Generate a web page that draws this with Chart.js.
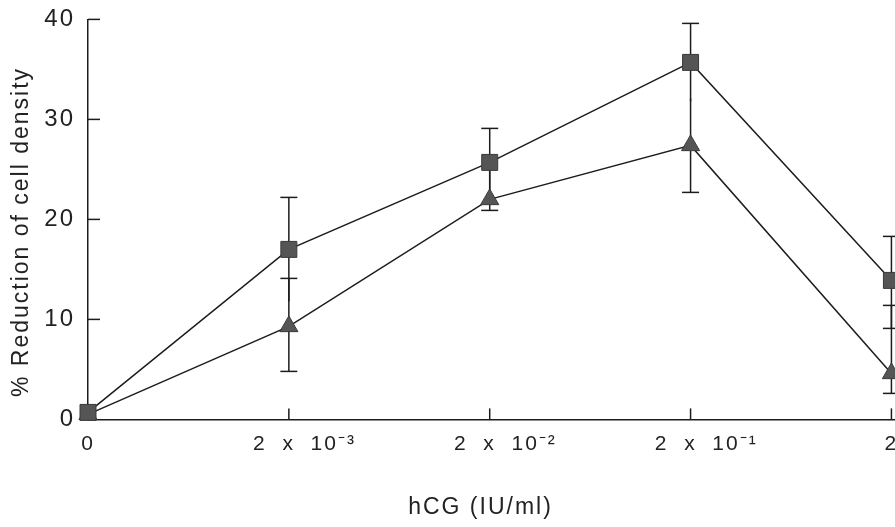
<!DOCTYPE html>
<html>
<head>
<meta charset="utf-8">
<script src="https://cdn.jsdelivr.net/npm/chart.js@4.4.1/dist/chart.umd.min.js"></script>
<style>
  html, body { margin: 0; padding: 0; background: #ffffff; overflow: hidden; width: 895px; height: 527px; }
  #wrap { width: 968px; height: 527px; }
</style>
</head>
<body>
<div id="wrap"><canvas id="c" width="968" height="527"></canvas></div>
<script>
// ---- data ----
const xPositions = [0, 1, 2, 3, 4];
const tickLabels = ['0', '2 x 10⁻³', '2 x 10⁻²', '2 x 10⁻¹', '2'];
const yTickValues = [0, 10, 20, 30, 40];

const squareValues   = [0.7, 17.0, 25.7, 35.7, 13.9];
const squareErrUp    = [0,   5.2,  3.4,  3.9,  4.4];
const squareErrDown  = [0,   5.2,  3.4,  3.9,  4.8];
const squareCapUp    = [0,   1,    1,    1,    1];
const squareCapDown  = [0,   0,    0,    0,    1];

const triangleValues  = [0.5, 9.3, 22.0, 27.4, 4.6];
const triangleErrUp   = [0,   4.8, 3.7,  4.7,  6.8];
const triangleErrDown = [0,   4.5, 1.1,  4.7,  2.0];
const triangleCapUp   = [0,   1,   0,    0,    1];
const triangleCapDown = [0,   1,   1,    1,    1];

const yTitle = '% Reduction of cell density';
const xTitle = 'hCG (IU/ml)';

// ---- drawing ----
const FONT = "'Liberation Sans', Arial, Helvetica, sans-serif";
const INK = '#1c1c1c';

const errorSpecs = [
  { values: squareValues, up: squareErrUp, down: squareErrDown, capUp: squareCapUp, capDown: squareCapDown },
  { values: triangleValues, up: triangleErrUp, down: triangleErrDown, capUp: triangleCapUp, capDown: triangleCapDown }
];

const spacing = {
  id: 'spacing',
  beforeLayout(chart) { chart.ctx.letterSpacing = '2px'; },
  beforeDraw(chart) { chart.ctx.letterSpacing = '2px'; }
};

const errorBars = {
  id: 'errorBars',
  beforeDatasetsDraw(chart) {
    const { ctx, scales: { x, y } } = chart;
    ctx.save();
    ctx.strokeStyle = INK;
    ctx.lineWidth = 1.5;
    const seg = (x1, y1, x2, y2) => { ctx.beginPath(); ctx.moveTo(x1, y1); ctx.lineTo(x2, y2); ctx.stroke(); };
    const cap = 8.5;
    errorSpecs.forEach(s => {
      s.values.forEach((v, i) => {
        const px = x.getPixelForValue(xPositions[i]);
        const py = y.getPixelForValue(v);
        if (s.up[i] > 0) {
          const t = y.getPixelForValue(v + s.up[i]);
          seg(px, py, px, t);
          if (s.capUp[i]) seg(px - cap, t, px + cap, t);
        }
        if (s.down[i] > 0) {
          const b = y.getPixelForValue(v - s.down[i]);
          seg(px, py, px, b);
          if (s.capDown[i]) seg(px - cap, b, px + cap, b);
        }
      });
    });
    ctx.restore();
  }
};

const innerTicks = {
  id: 'innerTicks',
  afterDraw(chart) {
    const { ctx, scales: { x, y }, chartArea } = chart;
    ctx.save();
    ctx.strokeStyle = INK;
    ctx.lineWidth = 1.5;
    yTickValues.filter(v => v > 0).forEach(v => {
      const py = y.getPixelForValue(v);
      ctx.beginPath(); ctx.moveTo(chartArea.left, py); ctx.lineTo(chartArea.left + 12, py); ctx.stroke();
    });
    xPositions.filter(v => v > 0).forEach(v => {
      const px = x.getPixelForValue(v);
      ctx.beginPath(); ctx.moveTo(px, chartArea.bottom); ctx.lineTo(px, chartArea.bottom - 11); ctx.stroke();
    });
    ctx.restore();
  }
};

function fmtTick(label) {
  let s = label.replace(/ /g, '  ');
  if (/[⁻]/.test(s)) s = '    ' + s;
  return s;
}

new Chart(document.getElementById('c'), {
  type: 'scatter',
  data: {
    datasets: [
      {
        label: 'squares',
        data: xPositions.map((x, i) => ({ x, y: squareValues[i] })),
        showLine: true,
        borderColor: INK,
        borderWidth: 1.5,
        pointStyle: 'rect',
        pointRadius: 11.3,
        pointBackgroundColor: '#555555',
        pointBorderColor: '#3a3a3a',
        pointBorderWidth: 1,
        clip: false
      },
      {
        label: 'triangles',
        data: xPositions.map((x, i) => ({ x, y: triangleValues[i] })),
        showLine: true,
        borderColor: INK,
        borderWidth: 1.5,
        pointStyle: 'triangle',
        pointRadius: 10.5,
        pointBackgroundColor: '#555555',
        pointBorderColor: '#3a3a3a',
        pointBorderWidth: 1,
        clip: false
      }
    ]
  },
  options: {
    responsive: false,
    animation: false,
    events: [],
    layout: { padding: { top: 17, right: 7, left: 0, bottom: 0 } },
    plugins: {
      legend: { display: false },
      tooltip: { enabled: false },
      title: {
        display: true,
        position: 'bottom',
        text: xTitle,
        color: '#222',
        font: { family: FONT, size: 23, weight: 'normal', lineHeight: 1.2 },
        padding: { top: 14, bottom: 6 }
      }
    },
    scales: {
      x: {
        type: 'linear',
        min: 0,
        max: 4.32,
        grid: { display: false },
        border: { display: true, color: INK, width: 1.5 },
        afterBuildTicks: (scale) => { scale.ticks = xPositions.map(v => ({ value: v })); },
        afterFit: (scale) => { scale.height = 60; },
        ticks: {
          autoSkip: false,
          maxRotation: 0,
          padding: 4,
          color: '#222',
          font: { family: FONT, size: 21 },
          callback: (value, index) => fmtTick(tickLabels[index])
        }
      },
      y: {
        min: 0,
        max: 40,
        grid: { display: false },
        border: { display: true, color: INK, width: 1.5 },
        afterBuildTicks: (scale) => { scale.ticks = yTickValues.map(v => ({ value: v })); },
        afterFit: (scale) => { scale.width = 88; },
        ticks: {
          padding: 5,
          color: '#222',
          font: { family: FONT, size: 24 },
          callback: (v) => String(v)
        },
        title: {
          display: true,
          text: yTitle + '   ',
          color: '#222',
          font: { family: FONT, size: 23, lineHeight: 1.2 },
          padding: { top: 8, bottom: 0 }
        }
      }
    }
  },
  plugins: [spacing, errorBars, innerTicks]
});
</script>
</body>
</html>
